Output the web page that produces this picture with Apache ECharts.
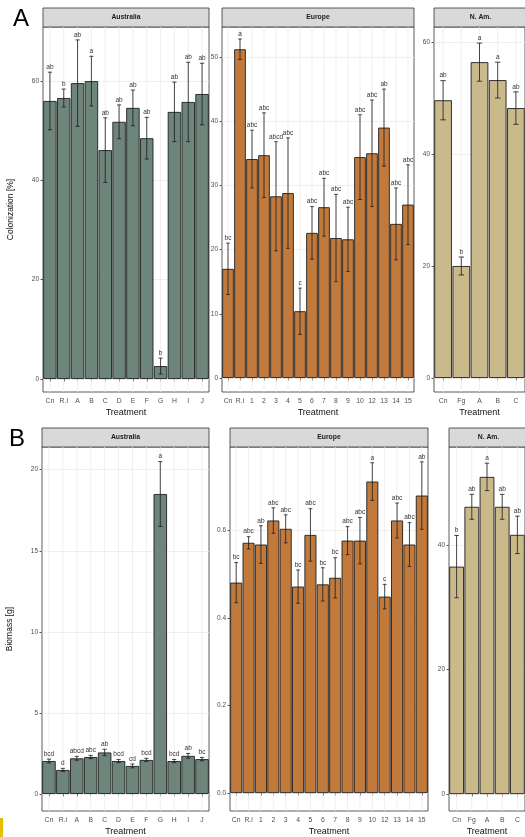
<!DOCTYPE html>
<html><head><meta charset="utf-8">
<script src="https://cdn.jsdelivr.net/npm/echarts@6/dist/echarts.min.js"></script>
<style>html,body{margin:0;padding:0;background:#fff}#c{width:525px;height:837px}</style>
</head><body><div id="c"></div>
<script>
// ---------- Categories ----------
const ausCats = ['Cn','R.i','A','B','C','D','E','F','G','H','I','J'];
const eurCats = ['Cn','R.i','1','2','3','4','5','6','7','8','9','10','12','13','14','15'];
const namCats = ['Cn','Fg','A','B','C'];

// ---------- Row A: Colonization [%] ----------
const colAusMean = [56.0,56.6,59.6,60.0,46.1,51.8,54.6,48.5,2.6,53.8,55.8,57.4];
const colAusErr  = [5.8,1.8,8.7,5.0,6.5,3.4,3.6,4.2,1.6,6.0,8.0,6.2];
const colAusLet  = ['ab','b','ab','a','ab','ab','ab','ab','b','ab','ab','ab'];

const colEurMean = [17.0,51.2,34.1,34.7,28.3,28.8,10.4,22.6,26.6,21.8,21.6,34.4,35.0,39.0,24.0,27.0];
const colEurErr  = [4.0,1.6,4.5,6.6,8.5,8.6,3.6,4.1,4.5,6.8,5.0,6.6,8.3,6.0,5.6,6.2];
const colEurLet  = ['bc','a','abc','abc','abcd','abc','c','abc','abc','abc','abc','abc','abc','ab','abc','abc'];

const colNamMean = [49.6,20.0,56.4,53.2,48.2];
const colNamErr  = [3.5,1.6,3.4,3.2,2.9];
const colNamLet  = ['ab','b','a','a','ab'];

// ---------- Row B: Biomass [g] ----------
const bioAusMean = [2.03,1.48,2.2,2.28,2.56,2.03,1.73,2.1,18.5,2.03,2.35,2.15];
const bioAusErr  = [0.12,0.1,0.12,0.1,0.2,0.1,0.12,0.1,2.0,0.1,0.15,0.1];
const bioAusLet  = ['bcd','d','abcd','abc','ab','bcd','cd','bcd','a','bcd','ab','bc'];

const bioEurMean = [0.481,0.572,0.568,0.623,0.604,0.472,0.59,0.477,0.492,0.577,0.577,0.712,0.449,0.623,0.568,0.68];
const bioEurErr  = [0.046,0.014,0.043,0.029,0.032,0.038,0.06,0.038,0.046,0.032,0.053,0.043,0.028,0.04,0.05,0.077];
const bioEurLet  = ['bc','abc','ab','abc','abc','bc','abc','bc','bc','abc','abc','a','c','abc','abc','ab'];

const bioNamMean = [36.5,46.1,50.9,46.1,41.6];
const bioNamErr  = [5.0,2.0,2.2,2.0,3.0];
const bioNamLet  = ['b','ab','a','ab','ab'];

// ---------- Panel layout / styling ----------
const regionTitles = ['Australia','Europe','N. Am.'];
const regionFill = ['#6d857a','#c27a3c','#cab98a'];

const panels = [
  {left:43, top:27, width:166, height:365, min:-2.62, max:70.9, step:20, cats:ausCats, mean:colAusMean, err:colAusErr, lab:colAusLet, region:0, yName:'Colonization [%]', dec:0},
  {left:222, top:27, width:192, height:365, min:-2.18, max:54.67, step:10, cats:eurCats, mean:colEurMean, err:colEurErr, lab:colEurLet, region:1, yName:'', dec:0},
  {left:434, top:27, width:93, height:365, min:-2.5, max:62.68, step:20, cats:namCats, mean:colNamMean, err:colNamErr, lab:colNamLet, region:2, yName:'', dec:0},
  {left:42, top:447, width:167, height:365, min:-1.05, max:21.4, step:5, cats:ausCats, mean:bioAusMean, err:bioAusErr, lab:bioAusLet, region:0, yName:'Biomass [g]', dec:0},
  {left:230, top:447, width:198, height:365, min:-0.041, max:0.791, step:0.2, cats:eurCats, mean:bioEurMean, err:bioEurErr, lab:bioEurLet, region:1, yName:'', dec:1},
  {left:449, top:447, width:79, height:365, min:-2.72, max:55.7, step:20, cats:namCats, mean:bioNamMean, err:bioNamErr, lab:bioNamLet, region:2, yName:'', dec:0}
];

function tickValues(min, max, step){
  const out = [];
  for (let k = Math.ceil(min/step - 1e-9); k*step <= max + 1e-9; k++) out.push(+(k*step).toFixed(6));
  return out;
}

const FONT = 'Liberation Sans, Arial, sans-serif';
const grid = [], xAxis = [], yAxis = [], series = [], graphic = [];

panels.forEach((p, i) => {
  grid.push({left:p.left, top:p.top, width:p.width, height:p.height, show:true,
    backgroundColor:'#fff', borderColor:'#333', borderWidth:0.8, containLabel:false});
  const ticks = tickValues(p.min, p.max, p.step);
  xAxis.push({gridIndex:i, type:'category', data:p.cats,
    axisLine:{show:false},
    axisTick:{show:true, alignWithLabel:true, length:2.5, lineStyle:{color:'#333', width:0.8}},
    axisLabel:{interval:0, fontSize:6.8, color:'#4d4d4d', margin:6, fontFamily:FONT},
    splitLine:{show:false},
    name:'Treatment', nameLocation:'middle', nameGap:16,
    nameTextStyle:{fontSize:9, color:'#111', fontFamily:FONT}});
  yAxis.push({gridIndex:i, type:'value', min:p.min, max:p.max,
    minInterval:p.step, maxInterval:p.step,
    axisLine:{show:false},
    axisTick:{show:true, length:2.5, customValues:ticks, lineStyle:{color:'#333', width:0.8}},
    axisLabel:{customValues:ticks, fontSize:6.5, color:'#4d4d4d', margin:4, fontFamily:FONT,
      formatter: v => Number(v).toFixed(p.dec)},
    splitLine:{show:true, lineStyle:{color:'#ebebeb', width:0.8}},
    name:p.yName, nameLocation:'middle', nameGap:28,
    nameTextStyle:{fontSize:8.5, color:'#111', fontFamily:FONT}});

  // vertical major grid lines at category centers
  series.push({type:'custom', xAxisIndex:i, yAxisIndex:i, z:1, silent:true,
    data:p.cats.map((c, j) => [j, 0]),
    renderItem:(params, api) => {
      const cs = params.coordSys;
      const x = api.coord([api.value(0), 0])[0];
      return {type:'line', shape:{x1:x, y1:cs.y, x2:x, y2:cs.y + cs.height},
        style:{stroke:'#ebebeb', lineWidth:0.8}};
    }});

  // bars
  series.push({type:'bar', xAxisIndex:i, yAxisIndex:i, z:2, data:p.mean,
    barCategoryGap:'3%',
    itemStyle:{color:regionFill[p.region], borderColor:'#1f1f1f', borderWidth:0.9}});

  // error bars and significance letters
  series.push({type:'custom', xAxisIndex:i, yAxisIndex:i, z:3, silent:true,
    data:p.mean.map((m, j) => [j, m, p.err[j]]),
    renderItem:(params, api) => {
      const j = api.value(0), m = api.value(1), e = api.value(2);
      const top = api.coord([j, m + e]);
      const bot = api.coord([j, m - e]);
      const cw = api.size([1, 0])[0] * 0.3;
      const st = {stroke:'#1a1a1a', lineWidth:0.8};
      return {type:'group', children:[
        {type:'line', shape:{x1:top[0], y1:top[1], x2:bot[0], y2:bot[1]}, style:st},
        {type:'line', shape:{x1:top[0]-cw/2, y1:top[1], x2:top[0]+cw/2, y2:top[1]}, style:st},
        {type:'line', shape:{x1:bot[0]-cw/2, y1:bot[1], x2:bot[0]+cw/2, y2:bot[1]}, style:st},
        {type:'text', x:top[0], y:top[1]-1.5, style:{text:p.lab[params.dataIndex], fill:'#333',
          font:'6.5px ' + FONT, textAlign:'center', textVerticalAlign:'bottom'}}
      ]};
    }});

  // facet strip
  graphic.push({type:'group', children:[
    {type:'rect', shape:{x:p.left, y:p.top - 19, width:p.width, height:19},
      style:{fill:'#d9d9d9', stroke:'#333', lineWidth:0.8}},
    {type:'text', x:p.left + p.width/2, y:p.top - 9.5,
      style:{text:regionTitles[p.region], fill:'#1a1a1a', font:'bold 6.8px ' + FONT,
        textAlign:'center', textVerticalAlign:'middle'}}
  ]});
});

// panel tags
graphic.push({type:'text', left:13, top:7, style:{text:'A', fill:'#000', font:'24px ' + FONT}});
graphic.push({type:'text', left:9, top:427, style:{text:'B', fill:'#000', font:'24px ' + FONT}});
// yellow mark at the lower-left corner of the reference
graphic.push({type:'rect', shape:{x:0, y:818, width:3, height:19}, style:{fill:'#e6bf00'}});

const chart = echarts.init(document.getElementById('c'), null, {renderer:'canvas'});
chart.setOption({animation:false, backgroundColor:'#fff', grid, xAxis, yAxis, series, graphic});
</script></body></html>
